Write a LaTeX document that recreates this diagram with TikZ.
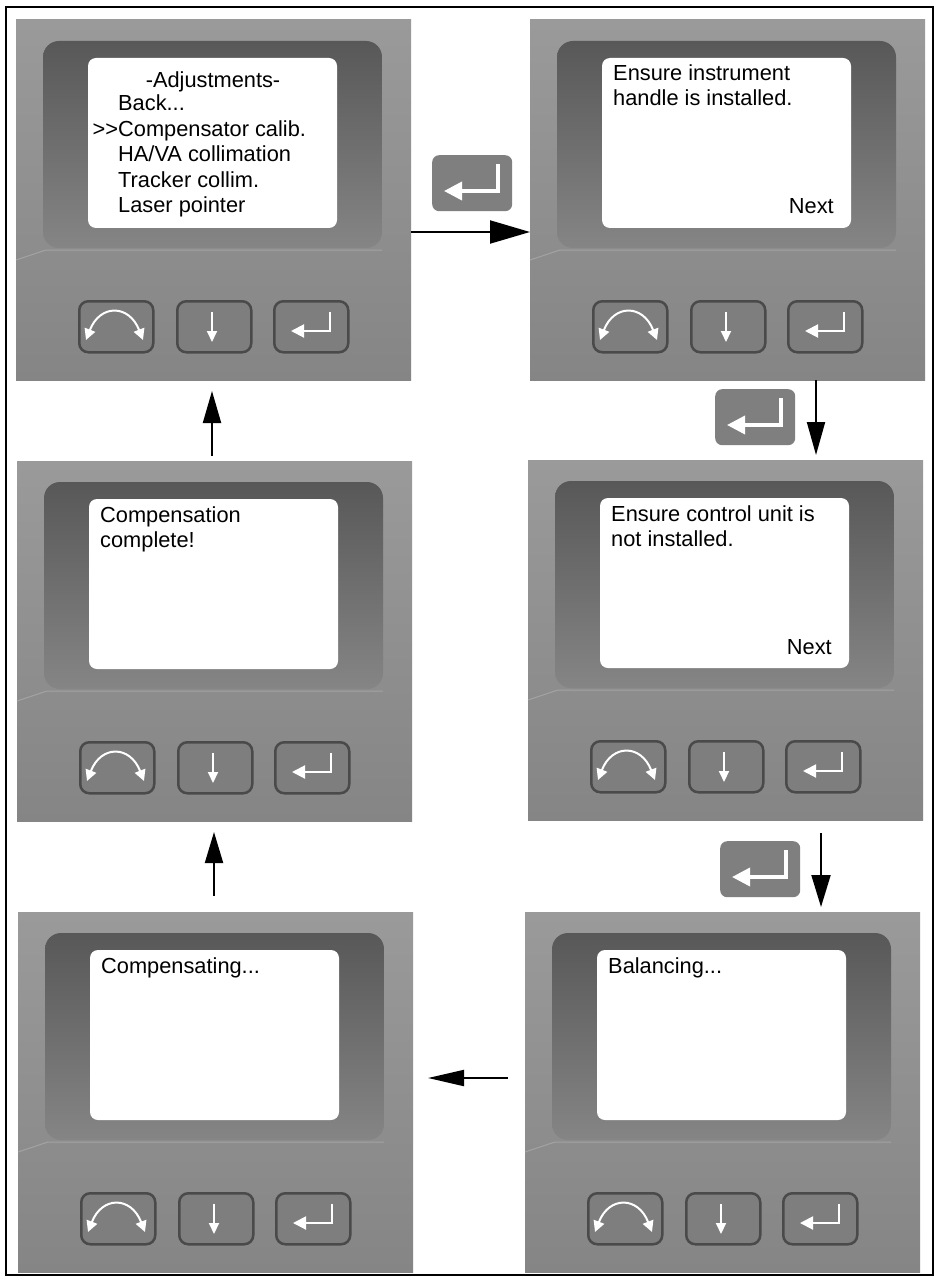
\documentclass[tikz,border=0pt]{standalone}
\usepackage{fontspec}
\setmainfont{Liberation Sans}
\usetikzlibrary{arrows.meta,calc}
\definecolor{pnltop}{HTML}{9A9A9A}
\definecolor{pnlbot}{HTML}{858585}
\definecolor{bztop}{HTML}{585858}
\definecolor{bzmid}{HTML}{777777}
\definecolor{bzbot}{HTML}{858585}
\definecolor{btnfill}{HTML}{7E7E7E}
\definecolor{btnrim}{HTML}{4A4A4A}
\definecolor{iconfill}{HTML}{7F7F7F}
\tikzset{
 panelbox/.style={anchor=north west, minimum width=395pt, minimum height=360pt, inner sep=0pt, outer sep=0pt, top color=pnltop, bottom color=pnlbot},
 screenbox/.style={anchor=north west, minimum width=249pt, minimum height=170pt, inner sep=0pt, outer sep=0pt, fill=white, rounded corners=8pt},
 btnbox/.style={anchor=north west, minimum width=74pt, minimum height=51pt, inner sep=0pt, fill=btnfill, draw=btnrim, line width=2.5pt, rounded corners=9pt},
 wicon/.style={draw=white, line width=2pt},
 lcd/.style={font=\fontsize{21.8}{25}\selectfont, inner sep=0pt, text=black},
 keyicon/.style={anchor=north west, minimum width=80pt, minimum height=56pt, inner sep=0pt, fill=iconfill, rounded corners=7pt},
 flow/.style={draw=black, line width=2pt},
}
\newcommand\devpanel[3]{%
 \node[panelbox] (#1) at (#2,#3) {};
 \begin{scope}[shift={(#2,#3)}]
  \shade[top color=bztop, middle color=bzmid, bottom color=bzbot, rounded corners=16pt] (27,21) rectangle (366,228);
  \draw[black!36, line width=1pt] (0,240) -- (30,230) -- (366,230);
  \node[screenbox] (#1s) at (72,38) {};
  \node[btnbox] (#1b1) at (62,280) {};
  \node[btnbox] (#1b2) at (160,280) {};
  \node[btnbox] (#1b3) at (257,280) {};
  \draw[wicon, {Triangle[length=11pt,width=11pt]}-{Triangle[length=11pt,width=11pt]}]
     (70,320) .. controls (84,284) and (113,284) .. (127,320);
  \draw[wicon, -{Triangle[length=11pt,width=10pt]}] (196,292) -- (196,322);
  \draw[wicon, -{Triangle[length=13pt,width=13pt]}] (314,292) -- (314,311) -- (275,311);
 \end{scope}}
\newcommand\keyglyph[3]{%
 \node[keyicon] (#1) at (#2,#3) {};
 \draw[draw=white, line width=3.5pt, -{Triangle[length=18pt,width=18pt]}]
   ($(#1.north west)+(66,9)$) -- ($(#1.north west)+(66,36)$) -- ($(#1.north west)+(12,36)$);}
\begin{document}
\begin{tikzpicture}[x=1pt,y=-1pt]
\useasboundingbox (0,0) rectangle (937,1281);
\fill[white] (0,0) rectangle (937,1281);
% panels
\devpanel{tl}{16}{20}
\devpanel{tr}{530}{20}
\devpanel{ml}{17}{461}
\devpanel{mr}{528}{460}
\devpanel{bl}{18}{912}
\devpanel{br}{525}{912}
% screen texts
\node[lcd, anchor=base] (tl0) at ($(tls.north west)+(125,30)$) {-Adjustments-};
\node[lcd, anchor=base west] (tl1) at ($(tls.north west)+(30,53)$) {Back...};
\node[lcd, anchor=base west] (tl2) at ($(tls.north west)+(30,79)$) {\llap{{>}{>}}Compensator calib.};
\node[lcd, anchor=base west] (tl3) at ($(tls.north west)+(30,104)$) {HA/VA collimation};
\node[lcd, anchor=base west] (tl4) at ($(tls.north west)+(30,130)$) {Tracker collim.};
\node[lcd, anchor=base west] (tl5) at ($(tls.north west)+(30,155)$) {Laser pointer};
\node[lcd, anchor=base west] (tr1) at ($(trs.north west)+(11,23)$) {Ensure instrument};
\node[lcd, anchor=base west] (tr2) at ($(trs.north west)+(11,48)$) {handle is installed.};
\node[lcd, anchor=base east] (tr3) at ($(trs.south east)+(-17,-14)$) {Next};
\node[lcd, anchor=base west] (mr1) at ($(mrs.north west)+(11,23)$) {Ensure control unit is};
\node[lcd, anchor=base west] (mr2) at ($(mrs.north west)+(11,48)$) {not installed.};
\node[lcd, anchor=base east] (mr3) at ($(mrs.south east)+(-17,-14)$) {Next};
\node[lcd, anchor=base west] (ml1) at ($(mls.north west)+(11,23)$) {Compensation};
\node[lcd, anchor=base west] (ml2) at ($(mls.north west)+(11,48)$) {complete!};
\node[lcd, anchor=base west] (bl1) at ($(bls.north west)+(11,23)$) {Compensating...};
\node[lcd, anchor=base west] (br1) at ($(brs.north west)+(11,23)$) {Balancing...};
% enter key glyphs
\keyglyph{k1}{432}{155}
\keyglyph{k2}{715}{389}
\keyglyph{k3}{720}{841}
% flow arrows
\coordinate (a1s) at ($(tl.north east)+(0,212)$);
\coordinate (a1e) at ($(tr.north west)+(0,212)$);
\draw[flow, -{Triangle[length=40pt,width=23pt]}] (a1s) -- (a1e);
\coordinate (a2s) at ($(tr.south west)+(286,0)$);
\coordinate (a2e) at ($(mr.north west)+(288,-5)$);
\draw[flow, -{Triangle[length=33pt,width=18pt]}] (a2s) -- (a2e);
\coordinate (a3s) at ($(mr.south west)+(293,13)$);
\coordinate (a3e) at ($(br.north west)+(296,-5)$);
\draw[flow, -{Triangle[length=32pt,width=19pt]}] (a3s) -- (a3e);
\coordinate (a4s) at ($(br.north west)+(-17,166)$);
\coordinate (a4e) at ($(bl.north east)+(15,166)$);
\draw[flow, -{Triangle[length=36pt,width=16pt]}] (a4s) -- (a4e);
\coordinate (a5s) at ($(bl.north west)+(196,-16)$);
\coordinate (a5e) at ($(ml.south west)+(197,11)$);
\draw[flow, -{Triangle[length=31pt,width=18pt]}] (a5s) -- (a5e);
\coordinate (a6s) at ($(ml.north west)+(195,-5)$);
\coordinate (a6e) at ($(tl.south west)+(196,11)$);
\draw[flow, -{Triangle[length=32pt,width=18pt]}] (a6s) -- (a6e);
% outer frame
\node[draw=black, line width=2pt, inner sep=0pt, outer sep=0pt, minimum width=927pt, minimum height=1268pt, anchor=north west] (frame) at (6,7) {};
\end{tikzpicture}
\end{document}
